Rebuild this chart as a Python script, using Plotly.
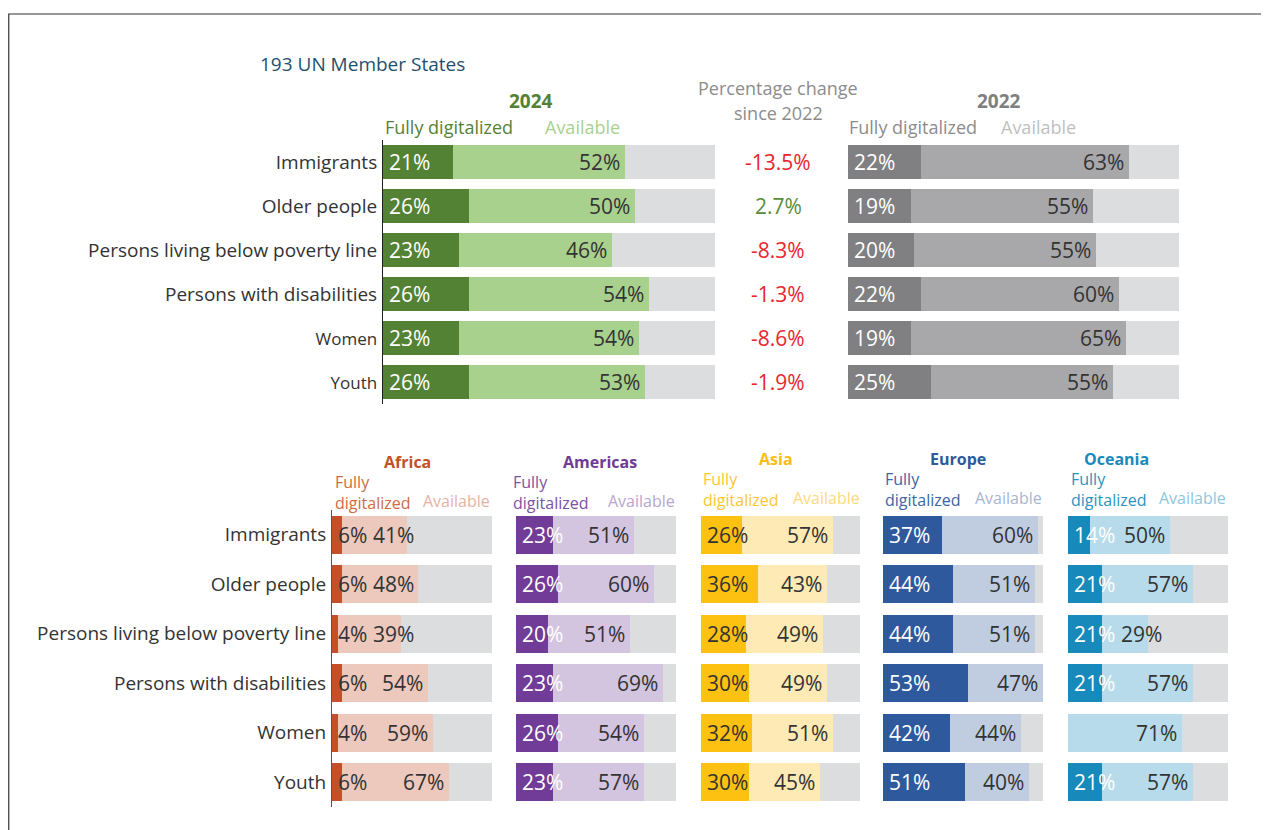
import plotly.graph_objects as go

# ---------------- data ----------------
groups = ["Immigrants", "Older people", "Persons living below poverty line",
          "Persons with disabilities", "Women", "Youth"]
full_2024 = [21, 26, 23, 26, 23, 26]
avail_2024 = [52, 50, 46, 54, 54, 53]
change_since_2022 = [-13.5, 2.7, -8.3, -1.3, -8.6, -1.9]
full_2022 = [22, 19, 20, 22, 19, 25]
avail_2022 = [63, 55, 55, 60, 65, 55]

regions = ["Africa", "Americas", "Asia", "Europe", "Oceania"]
full_africa = [6, 6, 4, 6, 4, 6]
avail_africa = [41, 48, 39, 54, 59, 67]
full_americas = [23, 26, 20, 23, 26, 23]
avail_americas = [51, 60, 51, 69, 54, 57]
full_asia = [26, 36, 28, 30, 32, 30]
avail_asia = [57, 43, 49, 49, 51, 45]
full_europe = [37, 44, 44, 53, 42, 51]
avail_europe = [60, 51, 51, 47, 44, 40]
full_oceania = [14, 21, 21, 21, 0, 21]
avail_oceania = [50, 57, 29, 57, 71, 57]

# ---------------- layout helpers ----------------
W, H = 1269, 830
OFF = 8  # page body margin
FONT = "Open Sans"
GRAY_BG = "#dcdddf"
DARK_TXT = "#333333"


def px(x):
    return (x - OFF) / W


def py(y):
    return 1 - (y - OFF) / H


def tw(s, fs):
    w = 0
    for c in s:
        if c.isdigit():
            w += 0.57
        elif c == "%":
            w += 0.82
        else:
            w += 0.3
    return w * fs


fig = go.Figure()
annotations = []
VAL_FS = 21

panels = [
    # axis id, yaxis, full, avail, dark, light, fully label colour, px x0, px x1
    ("x", "y", full_2024, avail_2024, "#548235", "#a9d18e", "white", 383, 715),
    ("x2", "y", full_2022, avail_2022, "#808082", "#a8a8aa", "white", 848, 1179),
    ("x3", "y2", full_africa, avail_africa, "#c4502a", "#ecc9bc", DARK_TXT, 332, 492),
    ("x4", "y2", full_americas, avail_americas, "#703c97", "#d3c4e0", "white", 516, 676),
    ("x5", "y2", full_asia, avail_asia, "#fdc111", "#feeab5", DARK_TXT, 701, 860),
    ("x6", "y2", full_europe, avail_europe, "#2e5a9d", "#c0cde1", "white", 883, 1043),
    ("x7", "y2", full_oceania, avail_oceania, "#1789bb", "#b7dbea", "white", 1068, 1228),
]

for xa, ya, full, avail, dark, light, ftxt, x0, x1 in panels:
    rest = [100 - f - a for f, a in zip(full, avail)]
    for vals, col in ((full, dark), (avail, light), (rest, GRAY_BG)):
        fig.add_trace(go.Bar(
            y=groups, x=vals, orientation="h", xaxis=xa, yaxis=ya,
            marker=dict(color=col, line=dict(width=0)),
            showlegend=False, hoverinfo="skip"))
    Wpx = x1 - x0
    for g, f, a in zip(groups, full, avail):
        ft = f"{f}%"
        if f > 0:
            annotations.append(dict(
                x=0, y=g, xref=xa, yref=ya, text=ft, showarrow=False,
                xanchor="left", xshift=4, yanchor="middle",
                font=dict(family=FONT, size=VAL_FS, color=ftxt)))
        at = f"{a}%"
        wf = tw(ft, VAL_FS) if f > 0 else 0
        right_px = max((f + a) / 100 * Wpx - 3, 5 + wf + 9 + tw(at, VAL_FS))
        annotations.append(dict(
            x=right_px / Wpx * 100, y=g, xref=xa, yref=ya, text=at,
            showarrow=False, xanchor="right", yanchor="middle",
            font=dict(family=FONT, size=VAL_FS, color=DARK_TXT)))

# percentage change column
for g, c in zip(groups, change_since_2022):
    annotations.append(dict(
        x=px(778), y=g, xref="paper", yref="y", text=f"{c:.1f}%",
        showarrow=False, xanchor="center", yanchor="middle",
        font=dict(family=FONT, size=VAL_FS,
                  color="#e8262e" if c < 0 else "#5b8c3a")))


def txt(x, y, s, color, size=18, anchor="left", bold=False, yanchor="middle"):
    if bold:
        s = f"<b>{s}</b>"
    annotations.append(dict(
        x=px(x), y=py(y), xref="paper", yref="paper", text=s,
        showarrow=False, xanchor=anchor, yanchor=yanchor, align=anchor,
        font=dict(family=FONT, size=size, color=color)))


txt(258, 64, "193 UN Member States", "#1f506e", size=19)
txt(531, 101, "2024", "#548235", size=19, anchor="center", bold=True)
txt(383, 127, "Fully digitalized", "#548235")
txt(543, 127, "Available", "#a9d18e")
txt(778, 88, "Percentage change", "#8c8c8c", anchor="center")
txt(778, 113, "since 2022", "#8c8c8c", anchor="center")
txt(999, 101, "2022", "#7f7f7f", size=19, anchor="center", bold=True)
txt(847, 127, "Fully digitalized", "#8c8c8c")
txt(999, 127, "Available", "#bfbfbf")

region_heads = [
    ("Africa", 407, 462, 333, 492, "#c4502a", "#cf6a45", "#e6b2a2"),
    ("Americas", 600, 462, 511, 677, "#6f3b96", "#7d52a3", "#b9a5cf"),
    ("Asia", 776, 459, 701, 862, "#fbbd16", "#fdc634", "#fdd97c"),
    ("Europe", 958, 459, 883, 1044, "#2e5a9d", "#3d65a3", "#a7b6d3"),
    ("Oceania", 1116, 459, 1069, 1228, "#1789bb", "#2a93c2", "#8cc6df"),
]
for name, cx, cy, fx, ax_r, tcol, fcol, acol in region_heads:
    txt(cx, cy, name, tcol, size=16, anchor="center", bold=True)
    txt(fx, cy + 30, "Fully<br>digitalized", fcol, size=16)
    txt(ax_r, cy + 39, "Available", acol, size=16, anchor="right")

# frame
shapes = [dict(type="rect", xref="paper", yref="paper",
               x0=0.0006, x1=1.05, y0=-0.05, y1=py(14),
               line=dict(color="#333333", width=1.2), fillcolor="rgba(0,0,0,0)")]

layout = dict(
    width=W, height=H, margin=dict(l=0, r=0, t=0, b=0),
    paper_bgcolor="white", plot_bgcolor="white",
    barmode="stack", bargap=0.23,
    font=dict(family=FONT, color=DARK_TXT),
    annotations=annotations, shapes=shapes, showlegend=False,
)

small = {"Women", "Youth"}
top_ticktext = [f"<span style='font-size:17px'>{g}</span>" if g in small else g
                for g in groups]

ycommon = dict(categoryorder="array", categoryarray=groups, autorange="reversed",
               showgrid=False, zeroline=False, ticks="", showline=True,
               linecolor="#222222", linewidth=1,
               tickfont=dict(family=FONT, size=19, color=DARK_TXT),
               ticklabelstandoff=1)
layout["yaxis"] = dict(ycommon, domain=[py(404), py(140)], anchor="x",
                       tickmode="array", tickvals=groups, ticktext=top_ticktext)
layout["yaxis2"] = dict(ycommon, domain=[py(807), py(510)], anchor="x3",
                        linecolor="#555555")

for xa, ya, *_rest in panels:
    x0, x1 = _rest[-2], _rest[-1]
    key = "xaxis" if xa == "x" else "xaxis" + xa[1:]
    layout[key] = dict(domain=[px(x0), px(x1)], range=[0, 100], anchor=ya,
                       visible=False, fixedrange=True)

fig.update_layout(**layout)
fig.write_html("out.html")
